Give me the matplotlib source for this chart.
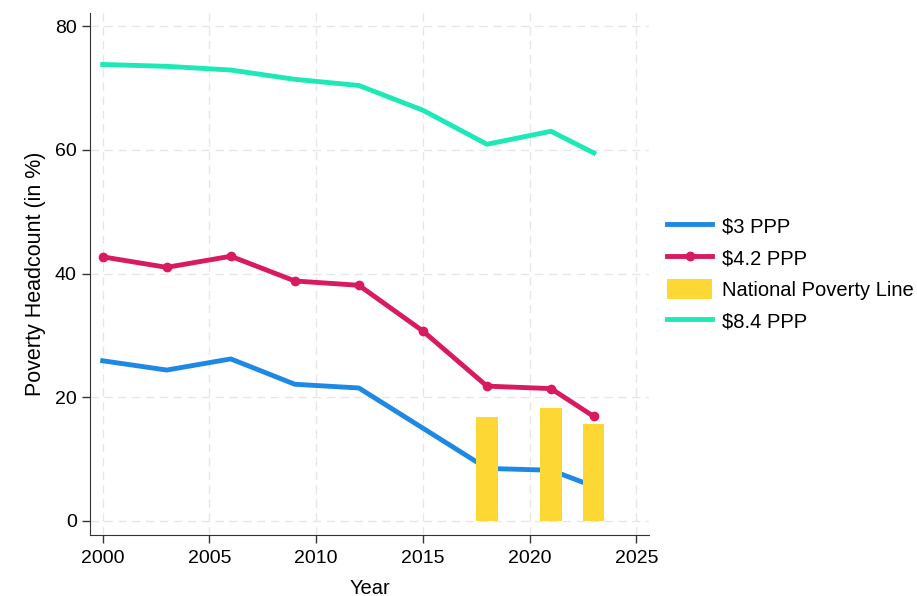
import numpy as np
import matplotlib.pyplot as plt

plt.rcParams['font.family'] = ['Liberation Sans', 'DejaVu Sans']

# === Data ===
years = [2000, 2003, 2006, 2009, 2012, 2015, 2018, 2021, 2023]
ppp_3 = [25.9, 24.4, 26.2, 22.1, 21.5, 15.0, 8.5, 8.2, 5.6]
ppp_42 = [42.7, 41.0, 42.8, 38.8, 38.1, 30.7, 21.8, 21.4, 16.9]
ppp_84 = [73.8, 73.5, 72.9, 71.4, 70.4, 66.4, 60.9, 63.0, 59.5]

npl_years = [2018, 2021, 2023]
npl_values = [16.8, 18.2, 15.6]

# === Plot ===
fig = plt.figure(figsize=(9.17, 5.96), dpi=100)
ax = fig.add_axes([0.098, 0.102, 0.610, 0.877])

l1, = ax.plot(years, ppp_3, color="#1E88E5", lw=3.5, label="$3 PPP", zorder=2)
l2, = ax.plot(years, ppp_42, color="#D81B60", lw=3.5, marker="o", ms=6,
              label="$4.2 PPP", zorder=2)
b1 = ax.bar(npl_years, npl_values, width=1.0, color="#FDD835",
            label="National Poverty Line", zorder=3)
l3, = ax.plot(years, ppp_84, color="#1DE9B6", lw=3.5, label="$8.4 PPP", zorder=2)

ax.set_xlim(1999.4, 2025.6)
ax.set_ylim(-2.3, 82.2)
ax.set_xticks([2000, 2005, 2010, 2015, 2020, 2025])
ax.set_yticks([0, 20, 40, 60, 80])
ax.tick_params(labelsize=14, length=6, width=1, color="#333333")
ax.tick_params(axis="x", pad=5)
ax.set_xlabel("Year", fontsize=14.5, labelpad=8)
ax.set_ylabel("Poverty Headcount (in %)", fontsize=15.5, labelpad=6)

ax.grid(True, color="#e6e6e6", linestyle=(0, (6, 4)), linewidth=1, zorder=0)
ax.set_axisbelow(True)
for side in ["top", "right"]:
    ax.spines[side].set_visible(False)
for side in ["left", "bottom"]:
    ax.spines[side].set_color("#333333")

ax.legend([l1, l2, b1, l3], ["$3 PPP", "$4.2 PPP", "National Poverty Line", "$8.4 PPP"],
          loc="center left", bbox_to_anchor=(1.0, 0.5), frameon=False,
          fontsize=14.5, handlelength=2.2, handleheight=1.1,
          handletextpad=0.5, labelspacing=0.55)

plt.savefig("out.png", dpi=100)
